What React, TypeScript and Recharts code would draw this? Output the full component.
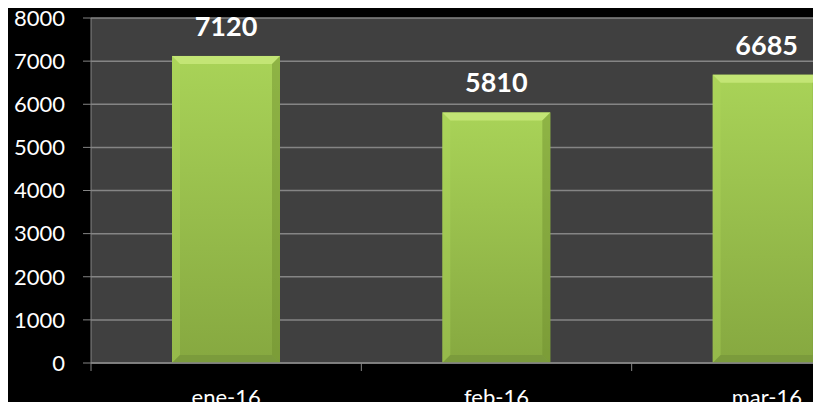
import { Bar, BarChart, CartesianGrid, LabelList, XAxis, YAxis } from "recharts"

const meses = ["ene-16", "feb-16", "mar-16"]
const ventas = [7120, 5810, 6685]
const yTicks = [0, 1000, 2000, 3000, 4000, 5000, 6000, 7000, 8000]

const data = meses.map((mes, i) => ({ mes, ventas: ventas[i] }))

const CHART_W = 902
const CHART_H = 402
const TOP = 10
const Y_AXIS_W = 91
const X_AXIS_H = 47
const AXIS_Y = CHART_H - X_AXIS_H
const BAND = (CHART_W - Y_AXIS_W) / meses.length
const FONT = "Lato, 'Open Sans', sans-serif"
const GRID = "#858585"

// x tick: label under the bar, tick mark at the category boundary
const MonthTick = (props: any) => {
  const { x, payload, index } = props
  const left = x - BAND / 2
  return (
    <g>
      <line x1={left} y1={AXIS_Y} x2={left} y2={AXIS_Y + 8} stroke={GRID} />
      {index === meses.length - 1 && (
        <line x1={left + BAND} y1={AXIS_Y} x2={left + BAND} y2={AXIS_Y + 8} stroke={GRID} />
      )}
      <text x={x} y={AXIS_Y + 42} textAnchor="middle" fill="#fff" fontSize={22} fontFamily={FONT}>
        {payload.value}
      </text>
    </g>
  )
}

const BevelBar = (props: any) => {
  const { x, y, width: w, height: h } = props
  if (!h || h <= 0) return null
  const b = 8
  return (
    <g>
      <rect x={x} y={y} width={w} height={h} fill="url(#barFace)" />
      <polygon points={`${x},${y} ${x + w},${y} ${x + w - b},${y + b} ${x + b},${y + b}`} fill="#c3e575" />
      <polygon points={`${x},${y} ${x + b},${y + b} ${x + b},${y + h - b} ${x},${y + h}`} fill="#b3d95f" opacity={0.35} />
      <polygon points={`${x + w},${y} ${x + w - b},${y + b} ${x + w - b},${y + h - b} ${x + w},${y + h}`} fill="#6e8e2e" opacity={0.45} />
      <polygon points={`${x},${y + h} ${x + b},${y + h - b} ${x + w - b},${y + h - b} ${x + w},${y + h}`} fill="#76963a" opacity={0.7} />
    </g>
  )
}

const TopLabel = (props: any) => {
  const { x, y, width, value } = props
  return (
    <text x={x + width / 2} y={y - 20} textAnchor="middle" fill="#fff" fontSize={27} fontWeight="bold" fontFamily={FONT}>
      {value}
    </text>
  )
}

export default function App() {
  return (
    <div style={{ marginLeft: -8, marginBottom: -8, width: 821, height: CHART_H, overflow: "hidden", background: "#000" }}>
      <BarChart width={CHART_W} height={CHART_H} data={data} margin={{ top: TOP, right: 0, left: 0, bottom: 0 }}>
        <defs>
          <linearGradient id="barFace" x1="0" y1="0" x2="0" y2="1">
            <stop offset="0%" stopColor="#a9d358" />
            <stop offset="100%" stopColor="#86a840" />
          </linearGradient>
        </defs>
        <CartesianGrid vertical={false} fill="#404040" stroke={GRID} strokeWidth={1.5} />
        <XAxis
          dataKey="mes"
          height={X_AXIS_H}
          axisLine={{ stroke: GRID, strokeWidth: 1.5 }}
          tickLine={false}
          tick={<MonthTick />}
          interval={0}
        />
        <YAxis
          width={Y_AXIS_W}
          domain={[0, 8000]}
          ticks={yTicks}
          interval={0}
          axisLine={{ stroke: GRID }}
          tickLine={{ stroke: GRID }}
          tickSize={8}
          tickMargin={18}
          tick={{ fill: "#fff", fontSize: 22, fontFamily: FONT }}
        />
        <Bar dataKey="ventas" barSize={108} shape={<BevelBar />} isAnimationActive={false}>
          <LabelList dataKey="ventas" content={<TopLabel />} />
        </Bar>
      </BarChart>
    </div>
  )
}
